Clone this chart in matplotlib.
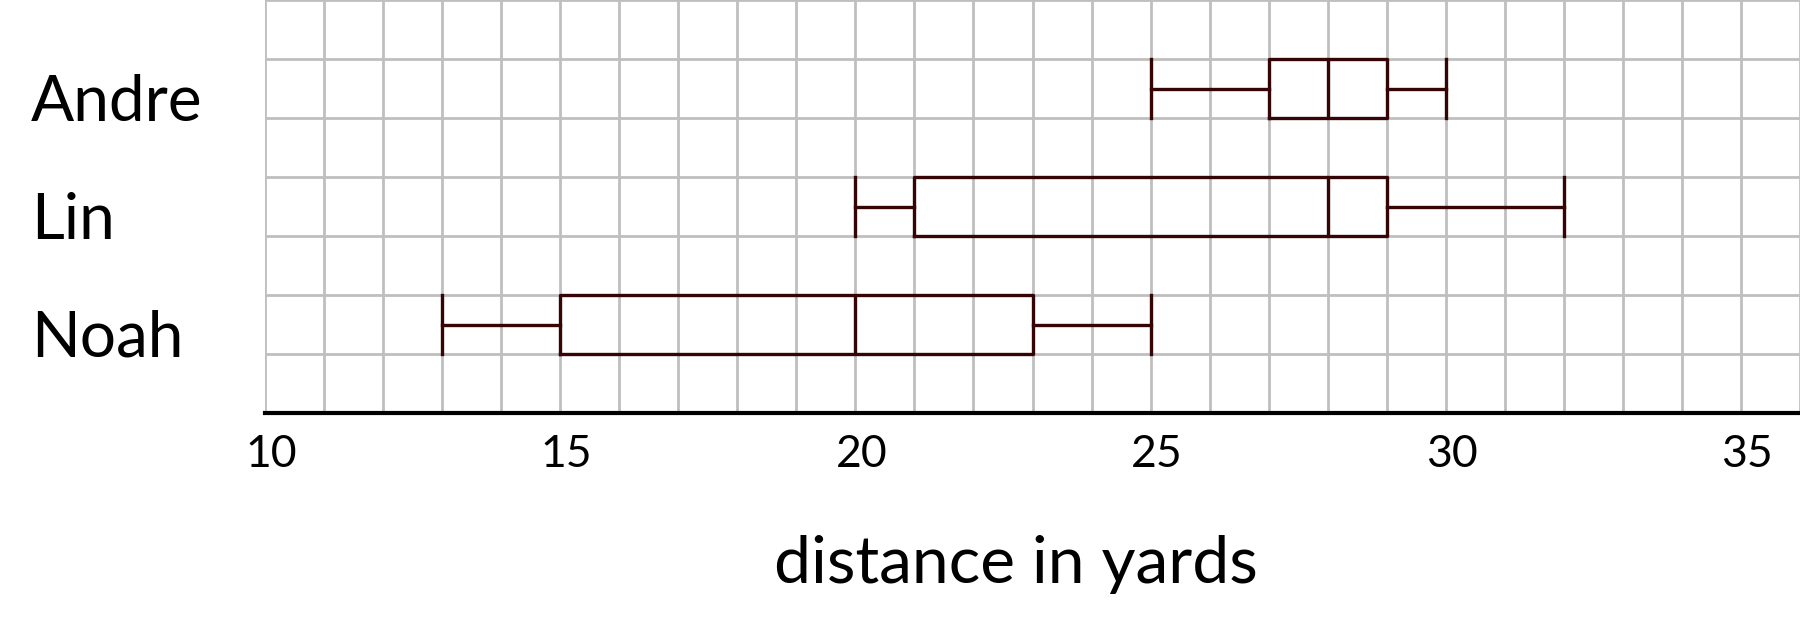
import matplotlib
matplotlib.use("Agg")
import matplotlib.pyplot as plt
import matplotlib.transforms as mtransforms

names = ["Andre", "Lin", "Noah"]
mins = [25, 20, 13]
q1s = [27, 21, 15]
medians = [28, 28, 20]
q3s = [29, 29, 23]
maxs = [30, 32, 25]
positions = [5.5, 3.5, 1.5]

line_color = "#350505"
plt.rcParams["font.family"] = ["Lato", "DejaVu Sans"]

fig = plt.figure(figsize=(18, 6.21), dpi=100)
ax = fig.add_axes([265 / 1800, 1 - 413 / 621, 1 - 265 / 1800, 413 / 621])

stats = []
for name, lo, q1, med, q3, hi in zip(names, mins, q1s, medians, q3s, maxs):
    stats.append(dict(label=name, whislo=lo, q1=q1, med=med, q3=q3, whishi=hi, fliers=[]))

props = dict(color=line_color, linewidth=2.4)
ax.bxp(stats, positions=positions, widths=1, capwidths=1, orientation="horizontal",
       showfliers=False, boxprops=props, whiskerprops=props, capprops=props,
       medianprops=props, manage_ticks=False)

# grid, one line per unit
ax.set_xlim(10, 36)
ax.set_ylim(0, 7)
ax.set_xticks(range(10, 37))
ax.set_xticklabels([str(v) if v % 5 == 0 else "" for v in range(10, 37)], fontsize=32)
ax.set_yticks(range(0, 8))
ax.set_yticklabels([])
ax.grid(True, color="#bfbfbf", linewidth=2)
ax.set_axisbelow(True)
ax.tick_params(length=0, pad=15)

# labels sit a touch right of their ticks in the original
shift = mtransforms.ScaledTranslation(6 / 100, 0, fig.dpi_scale_trans)
for lbl in ax.get_xticklabels():
    lbl.set_transform(lbl.get_transform() + shift)

for side in ["top", "right", "left"]:
    ax.spines[side].set_visible(False)
ax.spines["bottom"].set_linewidth(3)
ax.spines["bottom"].set_color("black")
ax.spines["bottom"].set_zorder(5)

# row labels
trans = mtransforms.blended_transform_factory(fig.transFigure, ax.transData)
for name, pos in zip(names, positions):
    ax.text(31 / 1800, pos - 0.55, name, transform=trans, fontsize=46,
            ha="left", va="baseline", clip_on=False)

fig.text(1016 / 1800, 1 - 583 / 621, "distance in yards", fontsize=47.5,
         ha="center", va="baseline")

fig.savefig("out.png", dpi=100)
